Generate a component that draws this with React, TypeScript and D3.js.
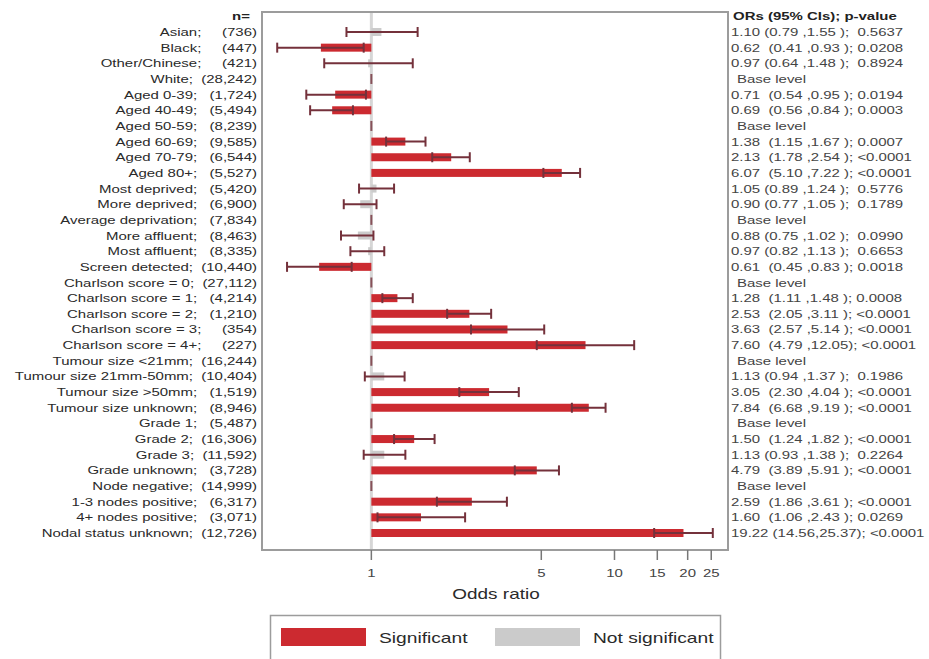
import React from 'react';
import * as d3 from 'd3';

// rows of the forest plot, top to bottom
const labels = [
  'Asian', 'Black', 'Other/Chinese', 'White',
  'Aged 0-39', 'Aged 40-49', 'Aged 50-59', 'Aged 60-69', 'Aged 70-79', 'Aged 80+',
  'Most deprived', 'More deprived', 'Average deprivation', 'More affluent', 'Most affluent',
  'Screen detected',
  'Charlson score = 0', 'Charlson score = 1', 'Charlson score = 2', 'Charlson score = 3', 'Charlson score = 4+',
  'Tumour size <21mm', 'Tumour size 21mm-50mm', 'Tumour size >50mm', 'Tumour size unknown',
  'Grade 1', 'Grade 2', 'Grade 3', 'Grade unknown',
  'Node negative', '1-3 nodes positive', '4+ nodes positive', 'Nodal status unknown'
];
const counts = [
  '736', '447', '421', '28,242',
  '1,724', '5,494', '8,239', '9,585', '6,544', '5,527',
  '5,420', '6,900', '7,834', '8,463', '8,335',
  '10,440',
  '27,112', '4,214', '1,210', '354', '227',
  '16,244', '10,404', '1,519', '8,946',
  '5,487', '16,306', '11,592', '3,728',
  '14,999', '6,317', '3,071', '12,726'
];
// null = base level
const ors = [
  1.10, 0.62, 0.97, null,
  0.71, 0.69, null, 1.38, 2.13, 6.07,
  1.05, 0.90, null, 0.88, 0.97,
  0.61,
  null, 1.28, 2.53, 3.63, 7.60,
  null, 1.13, 3.05, 7.84,
  null, 1.50, 1.13, 4.79,
  null, 2.59, 1.60, 19.22
];
const ciLow = [
  0.79, 0.41, 0.64, null,
  0.54, 0.56, null, 1.15, 1.78, 5.10,
  0.89, 0.77, null, 0.75, 0.82,
  0.45,
  null, 1.11, 2.05, 2.57, 4.79,
  null, 0.94, 2.30, 6.68,
  null, 1.24, 0.93, 3.89,
  null, 1.86, 1.06, 14.56
];
const ciHigh = [
  1.55, 0.93, 1.48, null,
  0.95, 0.84, null, 1.67, 2.54, 7.22,
  1.24, 1.05, null, 1.02, 1.13,
  0.83,
  null, 1.48, 3.11, 5.14, 12.05,
  null, 1.37, 4.04, 9.19,
  null, 1.82, 1.38, 5.91,
  null, 3.61, 2.43, 25.37
];
const pValues = [
  '0.5637', '0.0208', '0.8924', '',
  '0.0194', '0.0003', '', '0.0007', '<0.0001', '<0.0001',
  '0.5776', '0.1789', '', '0.0990', '0.6653',
  '0.0018',
  '', '0.0008', '<0.0001', '<0.0001', '<0.0001',
  '', '0.1986', '<0.0001', '<0.0001',
  '', '<0.0001', '0.2264', '<0.0001',
  '', '<0.0001', '0.0269', '<0.0001'
];
const xTicks = [1, 5, 10, 15, 20, 25];

const RED = '#cc2a30';
const GREY = '#cbcbcb';
const MAROON = '#74313b';
const FRAME = '#9c9c9c';
const SX = 1.28; // source picture is stretched horizontally

const fmt = (v: number) => v.toFixed(2);

function T({ x, y, children, anchor = 'start', size = 11.7, weight = 'normal', fill = '#2a2a2a' }: any) {
  return (
    <text
      transform={`translate(${x},${y}) scale(${SX},1)`}
      textAnchor={anchor}
      fontSize={size}
      fontWeight={weight}
      fill={fill}
      xmlSpace="preserve"
      style={{ whiteSpace: 'pre' }}
    >
      {children}
    </text>
  );
}

export default function App() {
  const width = 929;
  const height = 659;
  const frame = { left: 262, right: 728, top: 12, bottom: 550 };

  const x = d3.scaleLog().domain([0.355, 29.3]).range([frame.left, frame.right]);
  const y = d3.scalePoint<number>().domain(d3.range(labels.length)).range([32, 533]);
  const barH = 8;
  const capH = 10;

  const rows = labels.map((lab, i) => {
    const or = ors[i];
    const lo = ciLow[i];
    const hi = ciHigh[i];
    const base = or === null;
    const sig = !base && (hi! < 1 || lo! > 1);
    let txt = 'Base level';
    if (!base) {
      const gap = sig && or! < 10 ? '  ' : ' ';
      const l = fmt(lo!) + (lo! >= 10 ? '' : ' ');
      const h = fmt(hi!) + (hi! >= 10 ? '' : ' ');
      txt = `${fmt(or!)}${gap}(${l},${h});${sig ? ' ' : '  '}${pValues[i]}`;
    }
    // label and count share one right-aligned, space-padded string
    const nStr = `(${counts[i]})`;
    const left = `${lab};  ${' '.repeat(Math.max(0, 8 - nStr.length))}${nStr}`;
    return { left, or, lo, hi, base, sig, txt, cy: y(i)! };
  });

  return (
    <svg width={width} height={height} style={{ position: 'absolute', left: 0, top: 0, background: '#fff' }}
      fontFamily="'Liberation Sans', Arial, sans-serif">
      {/* reference line at OR = 1 */}
      <line x1={x(1)} x2={x(1)} y1={frame.top} y2={frame.bottom} stroke="#d6d6d6" strokeWidth={3} />

      {rows.map((r, i) => (
        <g key={i}>
          {!r.base && (
            <rect
              x={Math.min(x(1), x(r.or!))}
              y={r.cy - barH / 2}
              width={Math.abs(x(r.or!) - x(1))}
              height={barH}
              fill={r.sig ? RED : GREY}
            />
          )}
          {!r.base ? (
            <g stroke={MAROON} strokeWidth={2}>
              <line x1={x(r.lo!)} x2={x(r.hi!)} y1={r.cy} y2={r.cy} />
              <line x1={x(r.lo!)} x2={x(r.lo!)} y1={r.cy - capH / 2} y2={r.cy + capH / 2} />
              <line x1={x(r.hi!)} x2={x(r.hi!)} y1={r.cy - capH / 2} y2={r.cy + capH / 2} />
            </g>
          ) : (
            <line x1={x(1)} x2={x(1)} y1={r.cy - capH / 2} y2={r.cy + capH / 2} stroke={MAROON} strokeWidth={2} opacity={0.8} />
          )}
          <T x={257} y={r.cy + 4} anchor="end">{r.left}</T>
          <T x={r.base ? 737 : 731} y={r.cy + 4} fill="#444">{r.txt}</T>
        </g>
      ))}

      {/* frame */}
      <rect x={frame.left} y={frame.top} width={frame.right - frame.left} height={frame.bottom - frame.top}
        fill="none" stroke={FRAME} strokeWidth={2} />

      {/* x axis */}
      {xTicks.map(t => (
        <g key={t}>
          <line x1={x(t)} x2={x(t)} y1={frame.bottom} y2={frame.bottom + 10} stroke="#777" strokeWidth={1.5} />
          <T x={x(t)} y={frame.bottom + 27} anchor="middle" size={11.7} fill="#444">{String(t)}</T>
        </g>
      ))}
      <T x={496} y={599} anchor="middle" size={14.8} fill="#2a2a2a">Odds ratio</T>

      {/* headers */}
      <T x={241} y={20} anchor="middle" weight="bold" fill="#222">n=</T>
      <T x={733} y={20} weight="bold" fill="#222">ORs (95% CIs); p-value</T>

      {/* legend */}
      <rect x={270.5} y={615.5} width={450} height={60} fill="none" stroke={FRAME} strokeWidth={1.5} />
      <rect x={281} y={628} width={85} height={18} fill={RED} />
      <T x={379} y={643} size={15} fill="#2a2a2a">Significant</T>
      <rect x={495} y={628} width={85} height={18} fill={GREY} />
      <T x={593} y={643} size={15} fill="#2a2a2a">Not significant</T>
    </svg>
  );
}
